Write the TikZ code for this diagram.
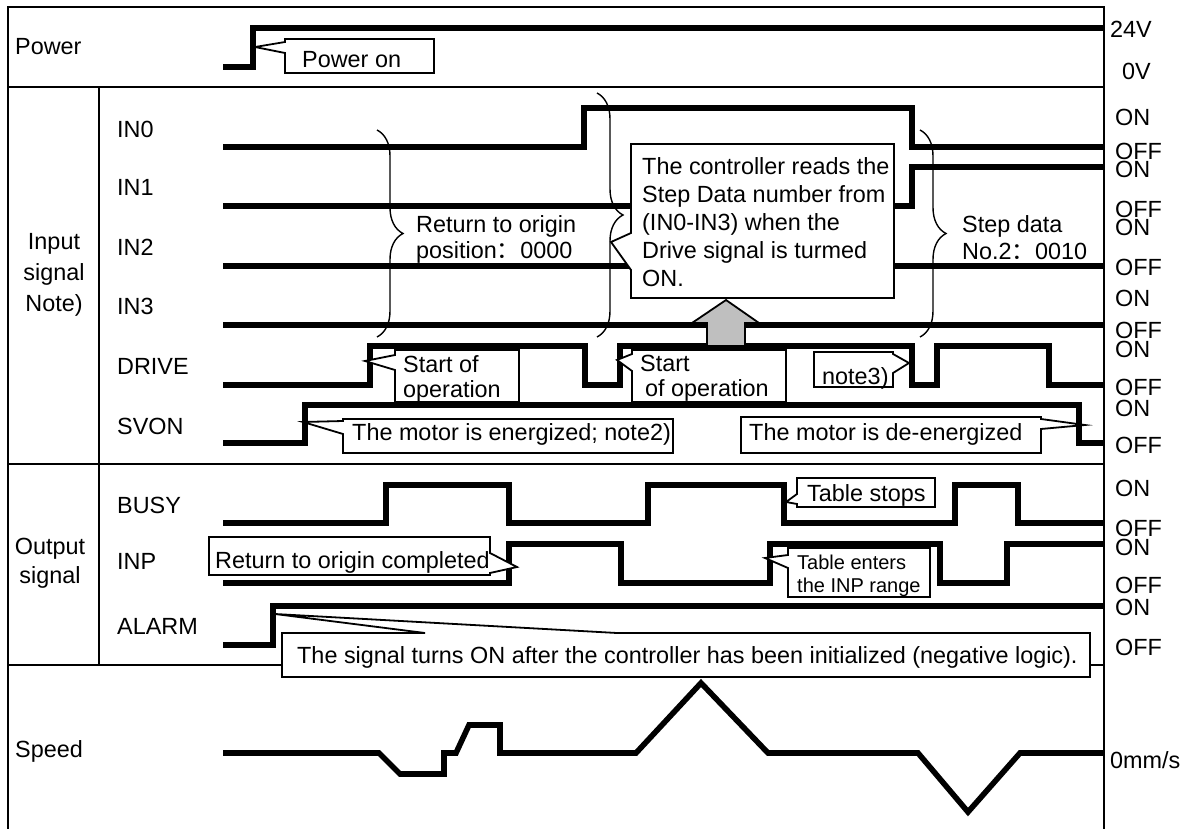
\documentclass[tikz,border=0pt]{standalone}
\usepackage{fontspec}
\setmainfont{Liberation Sans}
\newfontfamily\cjkfont{Noto Sans CJK SC}
\usetikzlibrary{decorations.pathreplacing}
\begin{document}
\begin{tikzpicture}[x=1pt,y=-1pt,
  frame/.style={line width=1.4pt},
  sig/.style={line width=5.6pt, line join=miter},
  cbox/.style={draw, fill=white, line width=1.8pt, line join=miter},
  lbl/.style={anchor=base west, inner sep=0pt, font=\fontsize{23.4}{28}\selectfont},
  mtxt/.style={anchor=north west, inner sep=0pt, align=left},
  brc/.style={decorate, decoration={brace, amplitude=26pt}, line width=1.4pt},
]
\useasboundingbox (0,0) rectangle (1192,829);
\fill[white] (0,0) rectangle (1192,829);

% frame
\draw[frame] (8,829) -- (8,7) -- (1104,7) -- (1104,829);
\draw[frame] (8,87) -- (1104,87);
\draw[frame] (8,464) -- (1104,464);
\draw[frame] (8,665) -- (1104,665);
\draw[frame] (99,87) -- (99,665);

% group labels
\node[lbl] (lpower) at (15,55) {Power};
\node[anchor=north, inner sep=0pt, align=center, font=\fontsize{23.4}{31}\selectfont] (linput) at (54,233) {Input\\signal\\Note)};
\node[anchor=north, inner sep=0pt, align=center, font=\fontsize{23.4}{29}\selectfont] (loutput) at (50,538) {Output\\signal};
\node[lbl] (lspeed) at (15,757) {Speed};

% signal names
\node[lbl] (nin0) at (117,138) {IN0};
\node[lbl] (nin1) at (117,196) {IN1};
\node[lbl] (nin2) at (117,256) {IN2};
\node[lbl] (nin3) at (117,314) {IN3};
\node[lbl] (ndrive) at (117,374) {DRIVE};
\node[lbl] (nsvon) at (117,434) {SVON};
\node[lbl] (nbusy) at (117,513) {BUSY};
\node[lbl] (ninp) at (117,569) {INP};
\node[lbl] (nalarm) at (117,634) {ALARM};

% right level labels
\node[lbl] (r24) at (1110,38) {24V};
\node[lbl] (r0) at (1122,80) {0V};
\node[lbl] (ra1) at (1115,126) {ON};
\node[lbl] (rb1) at (1115,160) {OFF};
\node[lbl] (ra2) at (1115,178) {ON};
\node[lbl] (rb2) at (1115,218) {OFF};
\node[lbl] (ra3) at (1115,236) {ON};
\node[lbl] (rb3) at (1115,276) {OFF};
\node[lbl] (ra4) at (1115,306) {ON};
\node[lbl] (rb4) at (1115,338) {OFF};
\node[lbl] (ra5) at (1115,357) {ON};
\node[lbl] (rb5) at (1115,395) {OFF};
\node[lbl] (ra6) at (1115,416) {ON};
\node[lbl] (rb6) at (1115,453) {OFF};
\node[lbl] (ra7) at (1115,496) {ON};
\node[lbl] (rb7) at (1115,536) {OFF};
\node[lbl] (ra8) at (1115,555) {ON};
\node[lbl] (rb8) at (1115,593) {OFF};
\node[lbl] (ra9) at (1115,615) {ON};
\node[lbl] (rb9) at (1115,655) {OFF};
\node[lbl] (rspd) at (1110,768) {0mm/s};

% signals
\draw[sig] (223,67) -- (253,67) -- (253,28) -- (1104,28);
\draw[sig] (223,147) -- (584,147) -- (584,108) -- (912,108) -- (912,147) -- (1104,147);
\draw[sig] (223,206) -- (912,206) -- (912,167) -- (1104,167);
\draw[sig] (223,266) -- (1104,266);
\draw[sig] (223,325) -- (1104,325);
\draw[sig] (223,385) -- (370,385) -- (370,346) -- (585,346) -- (585,385) -- (620,385) -- (620,346) -- (912,346) -- (912,385) -- (937,385) -- (937,346) -- (1049,346) -- (1049,385) -- (1104,385);
\draw[sig] (223,443) -- (305,443) -- (305,405) -- (1079,405) -- (1079,443) -- (1104,443);
\draw[sig] (223,523) -- (386,523) -- (386,485) -- (509,485) -- (509,523) -- (648,523) -- (648,485) -- (784,485) -- (784,523) -- (955,523) -- (955,485) -- (1018,485) -- (1018,523) -- (1104,523);
\draw[sig] (223,583) -- (509,583) -- (509,544) -- (621,544) -- (621,583) -- (770,583) -- (770,544) -- (940,544) -- (940,583) -- (1007,583) -- (1007,544) -- (1104,544);
\draw[sig] (223,645) -- (273,645) -- (273,606) -- (1104,606);
\draw[sig] (223,753) -- (379,753) -- (400,774) -- (444,774) -- (444,753) -- (456,753) -- (469,725) -- (500,725) -- (500,753) -- (636,753) -- (701,683) -- (768,753) -- (918,753) -- (968,812) -- (1020,753) -- (1104,753);

% braces
\draw[brc] (377,130) -- (377,337);
\draw[brc] (597,93) -- (597,337);
\draw[brc] (920,130) -- (920,337);
\node[mtxt, font=\fontsize{23.4}{26}\selectfont] (tret) at (416,215) {Return to origin\\position{\cjkfont ：}0000};
\node[mtxt, font=\fontsize{23.4}{27}\selectfont] (tstep) at (962,215) {Step data\\No.2{\cjkfont ：}0010};

% callouts
\draw[cbox] (285,39) -- (434,39) -- (434,73) -- (285,73) -- (285,53) -- (255,47) -- (285,42) -- cycle;
\node[lbl] (tpwr) at (302,68) {Power on};

\draw[cbox] (631,144) -- (894,144) -- (894,298) -- (631,298) -- (631,270) -- (611,242) -- (631,233) -- cycle;
\node[mtxt, font=\fontsize{23.4}{28}\selectfont] (tctrl) at (642,157) {The controller reads the\\Step Data number from\\(IN0-IN3) when the\\Drive signal is turmed\\ON.};

\draw[line width=1.8pt, fill=gray!50, line join=miter] (707,346) -- (707,323) -- (692,323) -- (726,300) -- (759,323) -- (745,323) -- (745,346) -- cycle;

\draw[cbox] (395,350) -- (519,350) -- (519,402) -- (395,402) -- (395,370) -- (365,361) -- (395,355) -- cycle;
\node[mtxt, font=\fontsize{23.4}{25}\selectfont] (tst1) at (403,355) {Start of\\operation};

\draw[cbox] (632,350) -- (786,350) -- (786,402) -- (632,402) -- (632,371) -- (617,360) -- (632,354) -- cycle;
\node[mtxt, font=\fontsize{23.4}{25}\selectfont] (tst2) at (640,355) {Start\\\hspace*{5pt}of operation};

\draw[cbox] (814,352) -- (893,352) -- (893,354) -- (909,363) -- (893,373) -- (893,387) -- (814,387) -- cycle;
\node[lbl] (tn3) at (822,384) {note3)};

\draw[cbox] (343,419) -- (673,419) -- (673,453) -- (343,453) -- (343,434) -- (303,422) -- (343,421) -- cycle;
\node[lbl] (ten) at (352,440) {The motor is energized; note2)};

\draw[cbox] (741,417) -- (1041,417) -- (1041,419) -- (1085,425) -- (1041,429) -- (1041,453) -- (741,453) -- cycle;
\node[lbl] (tden) at (749,440) {The motor is de-energized};

\draw[cbox] (209,537) -- (490,537) -- (490,553) -- (517,567) -- (490,573) -- (490,575) -- (209,575) -- cycle;
\node[lbl] (troc) at (215,568) {Return to origin completed};

\draw[cbox] (797,478) -- (935,478) -- (935,507) -- (797,507) -- (797,504) -- (786,502) -- (797,494) -- cycle;
\node[lbl] (tts) at (807,501) {Table stops};

\draw[cbox] (788,548) -- (930,548) -- (930,597) -- (788,597) -- (788,568) -- (765,558) -- (788,555) -- cycle;
\node[mtxt, font=\fontsize{20}{23}\selectfont] (tte) at (797,555) {Table enters\\the INP range};

\draw[cbox] (282,633) -- (425,633) -- (275,614) -- (617,633) -- (1090,633) -- (1090,677) -- (282,677) -- cycle;
\node[lbl] (talarm) at (297,663) {The signal turns ON after the controller has been initialized (negative logic).};

\end{tikzpicture}
\end{document}
